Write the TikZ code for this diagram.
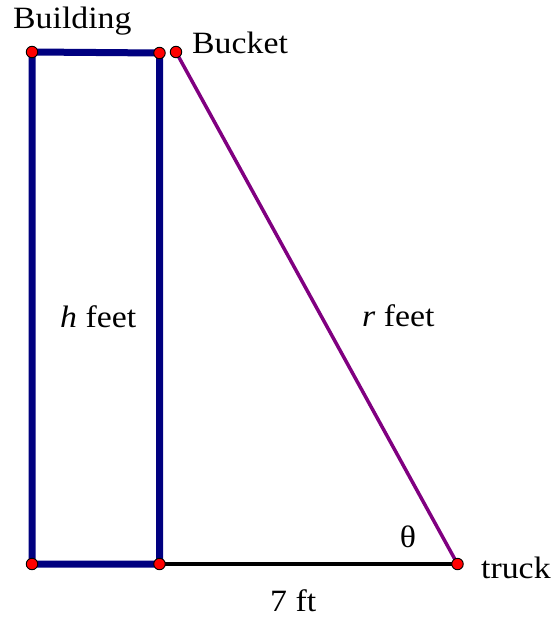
\documentclass[tikz,border=0pt]{standalone}
\usepackage{fontspec}
\setmainfont{Liberation Serif}
\newfontfamily\lblfont[FakeStretch=1.09]{Liberation Serif}
\definecolor{bldblue}{RGB}{0,0,128}
\definecolor{ladder}{RGB}{128,0,128}
\begin{document}
\begin{tikzpicture}[x=1pt,y=-1pt,
  pt/.style={circle,draw=black,fill=red,line width=0.9pt,minimum size=11.5pt,inner sep=0pt},
  wall/.style={draw=bldblue,line width=7pt,line cap=round},
  ground/.style={draw=black,line width=3.8pt},
  ladderline/.style={draw=ladder,line width=3.5pt},
  lbl/.style={inner sep=0pt,font=\lblfont\fontsize{31}{36}\selectfont}]
\useasboundingbox (0,0) rectangle (557,618);
\coordinate (TL) at (32,52);
\coordinate (TR) at (159.5,53);
\coordinate (BL) at (32,564);
\coordinate (BR) at (159.5,564);
\coordinate (BK) at (176,52);
\coordinate (TK) at (457.5,564);
\draw[ground] (BR) -- (TK);
\draw[wall] (TL) -- (TR) -- (BR) -- (BL) -- cycle;
\draw[ladderline] (BK) -- (TK);
\foreach \p in {TL,TR,BL,BR,BK,TK} \node[pt] (n\p) at (\p) {};
\node[lbl,anchor=base west] (building) at (13,29) {Building};
\node[lbl,anchor=base west] (bucket) at (192,53) {Bucket};
\node[lbl,anchor=base west] (hfeet) at (60,327) {\textit{h} feet};
\node[lbl,anchor=base west] (rfeet) at (362,326) {\textit{r} feet};
\node[lbl] (theta) at (408,537) {θ};
\node[lbl,anchor=base west] (truck) at (481,578) {truck};
\node[lbl,anchor=base west] (seven) at (270,611) {7 ft};
\end{tikzpicture}
\end{document}
